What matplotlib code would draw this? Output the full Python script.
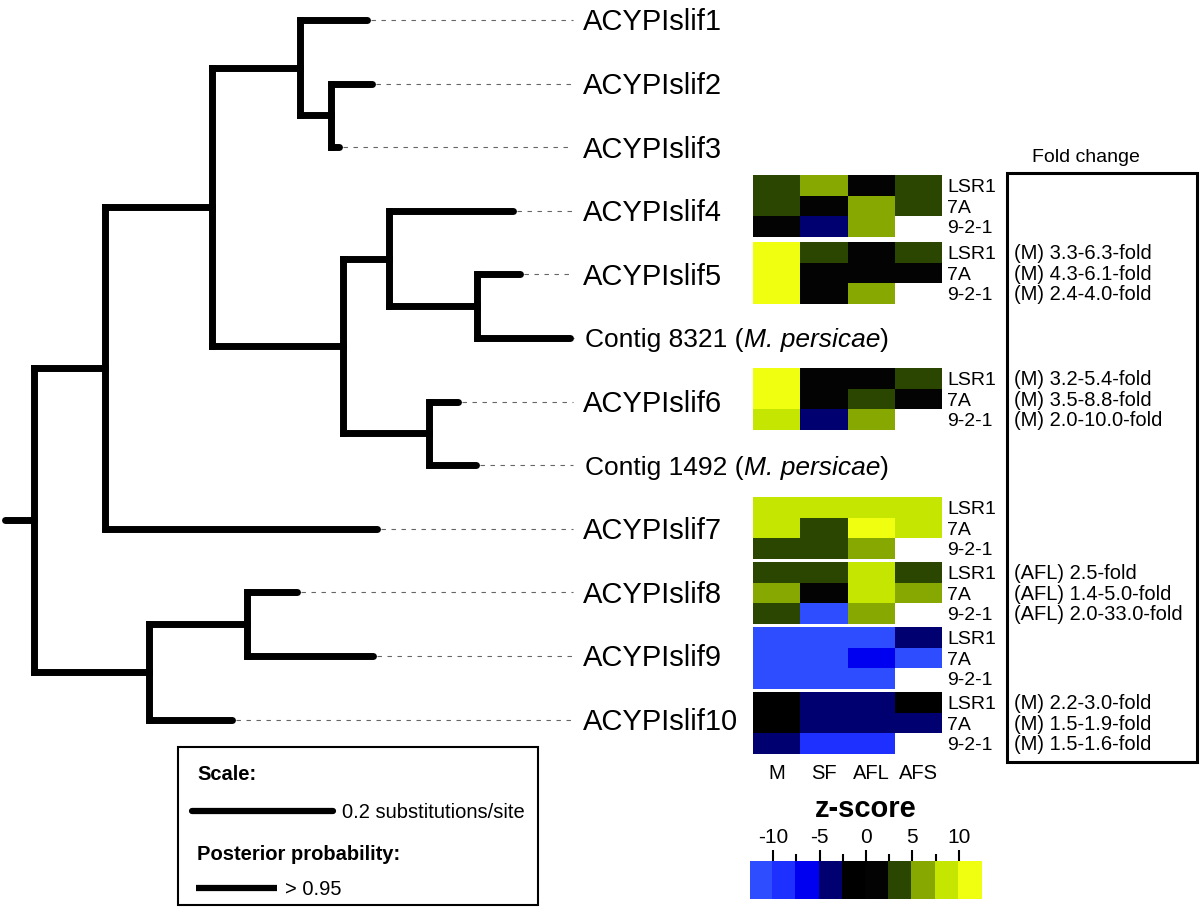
import numpy as np
import matplotlib
matplotlib.use("Agg")
import matplotlib.pyplot as plt
from matplotlib.colors import ListedColormap, BoundaryNorm
from matplotlib.cm import ScalarMappable
from matplotlib.patches import Rectangle

plt.rcParams['font.family'] = ['Liberation Sans', 'DejaVu Sans']
plt.rcParams['axes.unicode_minus'] = False

# ---------------- data ----------------
# tree: leaf = (name, branch_length); internal = (branch_length, [children])
tree = (0.041, [
    (0.101, [
        (0.152, [
            (0.125, [("ACYPIslif1", 0.095),
                     (0.044, [("ACYPIslif2", 0.057), ("ACYPIslif3", 0.011)])]),
            (0.186, [
                (0.064, [("ACYPIslif4", 0.177),
                         (0.125, [("ACYPIslif5", 0.061), ("Contig 8321", 0.133)])]),
                (0.121, [("ACYPIslif6", 0.041), ("Contig 1492", 0.067)]),
            ]),
        ]),
        ("ACYPIslif7", 0.386),
    ]),
    (0.163, [
        (0.139, [("ACYPIslif8", 0.071), ("ACYPIslif9", 0.179)]),
        ("ACYPIslif10", 0.118),
    ]),
])
leaf_order = ["ACYPIslif1", "ACYPIslif2", "ACYPIslif3", "ACYPIslif4", "ACYPIslif5",
              "Contig 8321", "ACYPIslif6", "Contig 1492", "ACYPIslif7", "ACYPIslif8",
              "ACYPIslif9", "ACYPIslif10"]
species_suffix = {"Contig 8321": "M. persicae", "Contig 1492": "M. persicae"}

conditions = ["M", "SF", "AFL", "AFS"]
lines_ = ["LSR1", "7A", "9-2-1"]
heat_genes = ["ACYPIslif4", "ACYPIslif5", "ACYPIslif6", "ACYPIslif7",
              "ACYPIslif8", "ACYPIslif9", "ACYPIslif10"]
nan = np.nan
z_slif4 = [[4, 6, 0, 4], [4, 0, 6, 4], [0, -4, 6, nan]]
z_slif5 = [[11, 4, 0, 4], [11, 0, 0, 0], [11, 0, 6, nan]]
z_slif6 = [[11, 0, 0, 4], [11, 0, 4, 0], [9, -4, 6, nan]]
z_slif7 = [[9, 9, 9, 9], [9, 4, 11, 9], [4, 4, 6, nan]]
z_slif8 = [[4, 4, 9, 4], [6, 0, 9, 6], [4, -11, 6, nan]]
z_slif9 = [[-11, -11, -11, -4], [-11, -11, -6, -11], [-11, -11, -11, nan]]
z_slif10 = [[-1, -4, -4, -1], [-1, -4, -4, -4], [-4, -9, -9, nan]]
z_values = [z_slif4, z_slif5, z_slif6, z_slif7, z_slif8, z_slif9, z_slif10]

fold_slif5 = ["(M) 3.3-6.3-fold", "(M) 4.3-6.1-fold", "(M) 2.4-4.0-fold"]
fold_slif6 = ["(M) 3.2-5.4-fold", "(M) 3.5-8.8-fold", "(M) 2.0-10.0-fold"]
fold_slif8 = ["(AFL) 2.5-fold", "(AFL) 1.4-5.0-fold", "(AFL) 2.0-33.0-fold"]
fold_slif10 = ["(M) 2.2-3.0-fold", "(M) 1.5-1.9-fold", "(M) 1.5-1.6-fold"]
fold_texts = {"ACYPIslif5": fold_slif5, "ACYPIslif6": fold_slif6,
              "ACYPIslif8": fold_slif8, "ACYPIslif10": fold_slif10}

z_bounds = np.arange(-12.5, 12.6, 2.5)
z_colors = ["#2d4dff", "#1e30ff", "#0000f0", "#000070", "#000000",
            "#030303", "#2a4600", "#86a800", "#c4e600", "#f0ff10"]
z_ticks = [-10, -5, 0, 5, 10]
z_minor = [-7.5, -2.5, 2.5, 7.5]
scale_len = 0.2

# ---------------- layout ----------------
W, H = 1200, 915
fig = plt.figure(figsize=(W / 100, H / 100), dpi=100)
ax = fig.add_axes([0, 0, 1, 1])
ax.set_xlim(0, W)
ax.set_ylim(H, 0)
ax.axis('off')

PX = 705.0      # pixels per substitution/site
X0 = 5.0        # root x
LEAF_Y0, LEAF_DY = 20.0, 63.6
TREE_LW = 5.0


def put(x, y, s, size, **kw):
    """place text so the cap-height centre sits at y"""
    return ax.text(x, y + 0.358 * size / 0.72, s, fontsize=size, va='baseline', **kw)


leaf_y = {n: LEAF_Y0 + i * LEAF_DY for i, n in enumerate(leaf_order)}
leaf_x = {}


def layout(node, parent_x, parent_depth):
    if isinstance(node[0], str):
        name, bl = node
        d = parent_depth + bl
        x = X0 + d * PX
        y = leaf_y[name]
        ax.plot([parent_x, x], [y, y], color='black', lw=TREE_LW,
                solid_capstyle='round', zorder=3)
        leaf_x[name] = x
        return y
    bl, children = node
    d = parent_depth + bl
    x = X0 + d * PX
    ys = [layout(c, x, d) for c in children]
    y = sum(ys) / len(ys)
    ax.plot([x, x], [min(ys), max(ys)], color='black', lw=TREE_LW,
            solid_capstyle='projecting', zorder=3)
    ax.plot([parent_x, x], [y, y], color='black', lw=TREE_LW,
            solid_capstyle='round' if parent_x == X0 else 'projecting', zorder=3)
    return y


layout(tree, X0, 0.0)

LABEL_X = 583
for name in leaf_order:
    y = leaf_y[name]
    ax.plot([leaf_x[name] + 4, LABEL_X - 10], [y, y], color='#666666', lw=0.8,
            linestyle=(0, (4, 5)), zorder=2)
    if name in species_suffix:
        t1 = put(LABEL_X + 2, y, name + " (", 19)
        t2 = ax.annotate(species_suffix[name], xy=(1, 0), xycoords=t1, va='bottom',
                         ha='left', fontsize=19, style='italic')
        ax.annotate(")", xy=(1, 0), xycoords=t2, va='bottom', ha='left', fontsize=19)
    else:
        put(LABEL_X, y, name, 21)

# ---------------- heatmap ----------------
cmap = ListedColormap(z_colors)
cmap.set_bad((1, 1, 1, 0))
norm = BoundaryNorm(z_bounds, cmap.N)
HM_X0, HM_CW = 753.0, 47.25
HM_RH = 20.5
block_tops = [175, 242, 368, 497, 562, 627, 692]
xedges = HM_X0 + HM_CW * np.arange(len(conditions) + 1)
for gene, top, vals in zip(heat_genes, block_tops, z_values):
    yedges = top + HM_RH * np.arange(len(lines_) + 1)
    arr = np.ma.masked_invalid(np.array(vals, dtype=float))
    ax.pcolormesh(xedges, yedges, arr, cmap=cmap, norm=norm,
                  edgecolors='none', antialiased=False, zorder=2)
    for r, ln in enumerate(lines_):
        yc = top + HM_RH * (r + 0.5)
        put(947, yc, ln, 14)
        if gene in fold_texts:
            put(1014, yc, fold_texts[gene][r], 14.5)

for c, cond in enumerate(conditions):
    put(HM_X0 + HM_CW * (c + 0.5), 772, cond, 14.5, ha='center')

# fold change box
ax.add_patch(Rectangle((1007, 173), 190, 589, fill=False, lw=2.2, ec='black', zorder=4))
put(1086, 155, "Fold change", 14, ha='center')

# ---------------- colorbar ----------------
cax = fig.add_axes([750 / W, (H - 899) / H, 232 / W, 38 / H])
cb = fig.colorbar(ScalarMappable(norm=norm, cmap=cmap), cax=cax,
                  orientation='horizontal', ticklocation='top', drawedges=False)
cb.outline.set_visible(False)
cb.solids.set_edgecolor('face')
cb.solids.set_antialiased(False)
cb.set_ticks(z_ticks)
cb.set_ticklabels([str(t) for t in z_ticks])
cax.set_xticks(z_minor, minor=True)
cax.tick_params(axis='x', which='major', length=8, width=1.5, labelsize=15, pad=2)
cax.tick_params(axis='x', which='minor', length=5, width=1.5)
ax.text(866, 817, "z-score", fontsize=21, fontweight='bold', ha='center', va='baseline')

# ---------------- legend box ----------------
ax.add_patch(Rectangle((178, 747), 360, 158, fill=False, lw=1.5, ec='black', zorder=4))
put(197, 773, "Scale:", 14.5, fontweight='bold')
ax.plot([192, 192 + scale_len * PX], [811, 811], color='black', lw=4.5,
        solid_capstyle='round')
put(342, 811, "%.1f substitutions/site" % scale_len, 14.5)
put(197, 853, "Posterior probability:", 14.5, fontweight='bold')
ax.plot([196, 277], [888, 888], color='black', lw=4.5, solid_capstyle='butt')
put(285, 888, "> 0.95", 14.5)

fig.savefig("out.png", dpi=100)
